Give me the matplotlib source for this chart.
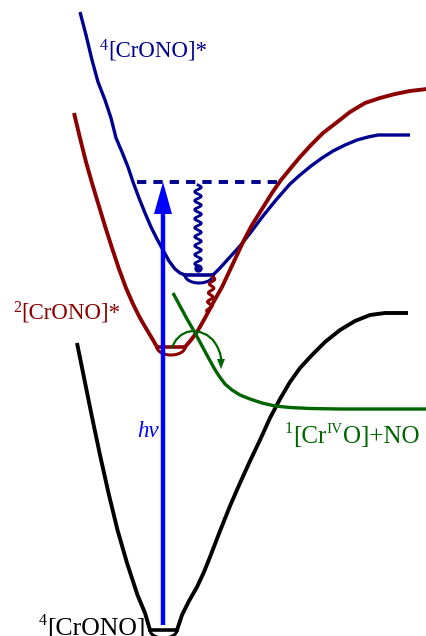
import numpy as np
import matplotlib
matplotlib.use("Agg")
import matplotlib.pyplot as plt
from matplotlib.patches import Polygon

# ---- data (pixel-space coordinates of the potential curves) ----
quartet_exc_x = [80, 86, 92, 98, 105, 111, 116, 122, 128, 133, 139, 145, 151, 157, 163, 169, 175, 180, 185]
quartet_exc_y = [12, 35, 60, 82, 100, 118, 138, 152, 167, 182, 198, 213, 227, 239, 250, 261, 269, 273, 275]
quartet_exc_rx = [213, 220, 230, 240, 251, 263, 276, 290, 300, 311, 322, 333, 345, 357, 368, 378, 410]
quartet_exc_ry = [275, 268, 257, 246, 232, 216, 200, 184, 175, 166, 158, 151, 145, 140, 137, 135, 135]

doublet_x = [74, 80, 86, 92, 98, 105, 112, 119, 126, 133, 140, 147, 153, 157]
doublet_y = [113, 138, 162, 183, 203, 226, 248, 269, 288, 304, 318, 330, 340, 347]
doublet_rx = [185, 191, 197, 205, 213, 222, 230, 237, 244, 252, 262, 272, 281, 290, 300, 311, 323,
              336, 350, 365, 380, 395, 410, 427]
doublet_ry = [347, 340, 332, 318, 303, 287, 270, 255, 240, 225, 209, 193, 180, 169, 157, 145, 133,
              123, 112, 103, 98, 94, 91, 89]

ground_x = [77, 84.5, 92, 100, 108.5, 117.5, 127, 137.5, 145, 150]
ground_y = [343, 380, 417, 455, 493, 530, 563, 595, 613, 630]
ground_rx = [177, 182, 189, 197, 204, 210, 220, 230, 240, 250, 260, 270, 280, 290, 300, 312, 325,
             340, 355, 370, 385, 408]
ground_ry = [630, 615, 601, 587, 572, 557, 531, 506, 483, 461, 440, 418, 399, 382, 368, 355, 342,
             330, 321, 315, 313, 313]

singlet_x = [173, 180, 187, 194, 201, 208, 214, 219, 225, 232, 240, 250, 262, 275, 290, 310, 340, 427]
singlet_y = [293, 306, 319, 331, 344, 357, 368, 376, 384, 390, 395, 399, 403, 406, 407.5, 408.5, 409, 409]

# vibrational levels: (x_left, x_right, y, depth)
levels = [(185, 213, 275, 8), (157, 185, 347, 8), (150, 177, 630, 8)]

NAVY = '#000090'
DRED = '#8B0000'
GREEN = '#006400'
BLUE = '#0000FF'

fig = plt.figure(figsize=(4.27, 6.36), dpi=100)
ax = fig.add_axes([0, 0, 1, 1])
ax.set_xlim(0, 427)
ax.set_ylim(636, 0)
ax.axis('off')

kw = dict(solid_joinstyle='round', solid_capstyle='butt')
ax.plot(quartet_exc_x, quartet_exc_y, color=NAVY, lw=2.4, **kw)
ax.plot(quartet_exc_rx, quartet_exc_ry, color=NAVY, lw=2.4, **kw)
ax.plot(doublet_x, doublet_y, color=DRED, lw=2.8, **kw)
ax.plot(doublet_rx, doublet_ry, color=DRED, lw=2.8, **kw)
ax.plot(ground_x, ground_y, color='black', lw=2.8, **kw)
ax.plot(ground_rx, ground_ry, color='black', lw=2.8, **kw)
ax.plot(singlet_x, singlet_y, color=GREEN, lw=2.4, **kw)

# vibrational level lenses
for (x1, x2, y0, d), c in zip(levels, [NAVY, DRED, 'black']):
    t = np.linspace(0, np.pi, 40)
    xs = (x1 + x2) / 2 - (x2 - x1) / 2 * np.cos(t)
    ys = y0 + d * np.sin(t)
    ax.plot([x1, x2], [y0, y0], color=c, lw=2.6)
    ax.plot(xs, ys, color=c, lw=2.2)

# dotted level of excitation
ax.plot([137, 282], [182, 182], color=NAVY, lw=2.8, linestyle=(0, (2.4, 1.8)))

# excitation arrow hν
ax.plot([163, 163], [625, 205], color=BLUE, lw=3.2, solid_capstyle='butt')
ax.add_patch(Polygon([(163, 182), (154, 214), (172, 214)], closed=True, color=BLUE, lw=0))

# navy wavy relaxation
yy = np.linspace(185, 266, 300)
ax.plot(198 + 3.3 * np.sin((yy - 185) / 9.0 * 2 * np.pi), yy, color=NAVY, lw=2.0)
ax.plot([198], [268], 'o', color=NAVY, ms=5)

# red wavy relaxation
yy = np.linspace(277, 312, 200)
ax.plot(212.5 - (yy - 277) * 0.1 + 2.5 * np.sin((yy - 277) / 9.0 * 2 * np.pi), yy, color=DRED, lw=2.2)

# green curved arrow (crossing)
arc_x = [172, 176, 181, 187, 193, 200, 207, 213, 217, 220, 221, 221]
arc_y = [347, 340, 335, 332, 331, 332, 335, 340, 346, 353, 358, 362]
ax.plot(arc_x, arc_y, color=GREEN, lw=1.6)
ax.add_patch(Polygon([(221, 369), (217, 359), (225, 359)], closed=True, color=GREEN, lw=0))

# labels
ff = 'Liberation Serif'
SS = 11.5
def t(x, y, s, c, fs, **k):
    ax.text(x, y, s, color=c, fontsize=fs, family=ff, va='baseline', ha='left', **k)

t(100, 50, '4', NAVY, SS)
t(108.5, 57, '[CrONO]*', NAVY, 16.5)

t(13, 312, '2', DRED, SS)
t(21.5, 318, '[CrONO]*', DRED, 16.5)

t(39, 625, '4', 'black', SS)
t(47.5, 635, '[CrONO]', 'black', 18.5)

t(284.5, 433, '1', GREEN, SS)
t(293, 443, '[Cr', GREEN, 18)
t(326.5, 433, 'IV', GREEN, 11)
t(343, 443, 'O]+NO', GREEN, 18)

t(137, 437, 'hν', BLUE, 16.5, style='italic')

fig.savefig('out.png', dpi=100)
